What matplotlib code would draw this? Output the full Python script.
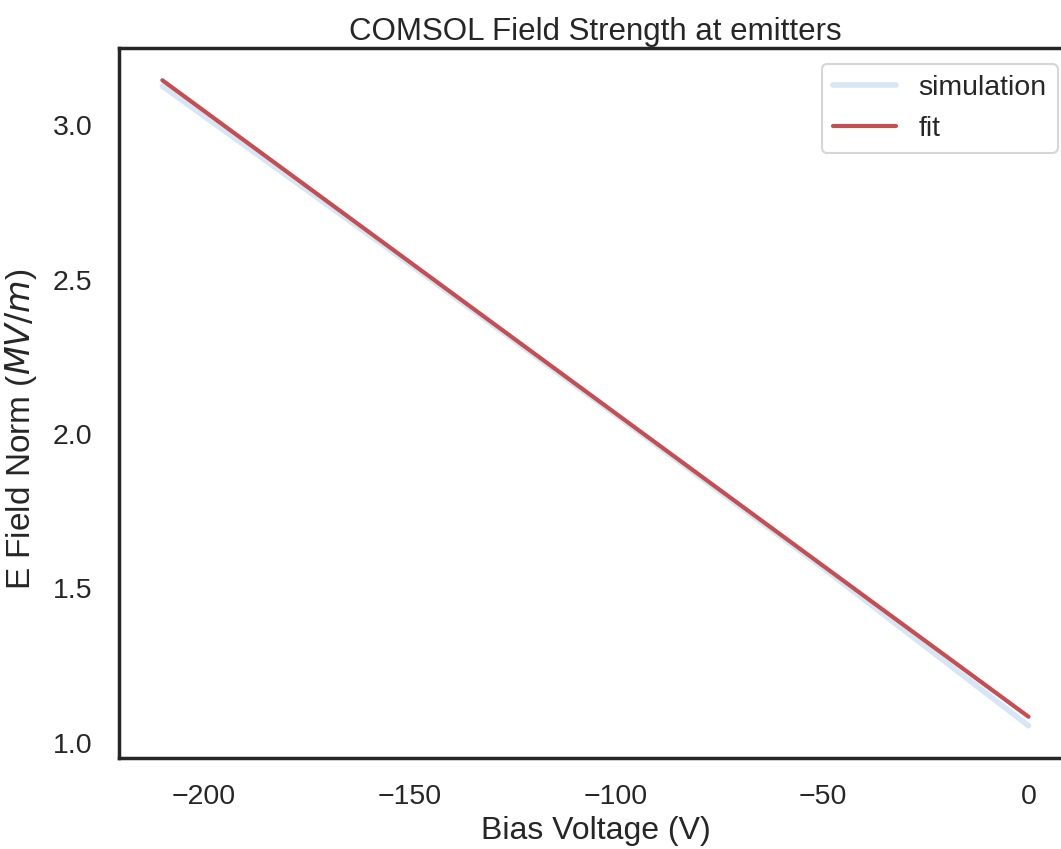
import matplotlib
matplotlib.use("Agg")
from matplotlib import pyplot as plt
import seaborn as sns

# bias voltage (V) and field norm (MV/m)
sim_v = [-210, -150, -100, -50, 0]
sim_e = [3.127, 2.550, 2.061, 1.568, 1.055]

fit_v = [-210, -150, -100, -50, 0]
fit_e = [3.146, 2.557, 2.066, 1.575, 1.084]

sns.set_theme(style="white", context="talk")
plt.rcParams['font.family'] = ['Liberation Sans', 'DejaVu Sans']
plt.rcParams['mathtext.fontset'] = 'dejavusans'

fig = plt.figure(figsize=(10.61, 8.49), dpi=100)
ax = fig.add_axes([0.1122, 0.1072, 0.898, 0.8363])

ax.plot(sim_v, sim_e, color='#d6e6f4', lw=4, label='simulation')
ax.plot(fit_v, fit_e, color='#c44e52', lw=3, label='fit')

ax.set_xticks([-200, -150, -100, -50, 0])
ax.set_yticks([1.0, 1.5, 2.0, 2.5, 3.0])
ax.tick_params(labelsize=20.5, colors='#262626', pad=10)
for s in ax.spines.values():
    s.set_linewidth(2.5)
    s.set_color('#262626')

ax.set_title('COMSOL Field Strength at emitters', fontsize=22.5, color='#262626')
ax.set_xlabel('Bias Voltage (V)', fontsize=23, color='#262626', labelpad=4)
ax.set_ylabel('E Field Norm ($MV/m$)', fontsize=24, color='#262626', labelpad=10)
ax.yaxis.label.set_y(0.463)
ax.legend(loc='upper right', bbox_to_anchor=(0.9972, 0.9246),
          bbox_transform=fig.transFigure, borderaxespad=0,
          fontsize=20.5, handlelength=2.2)

fig.savefig('out.png', dpi=100)
